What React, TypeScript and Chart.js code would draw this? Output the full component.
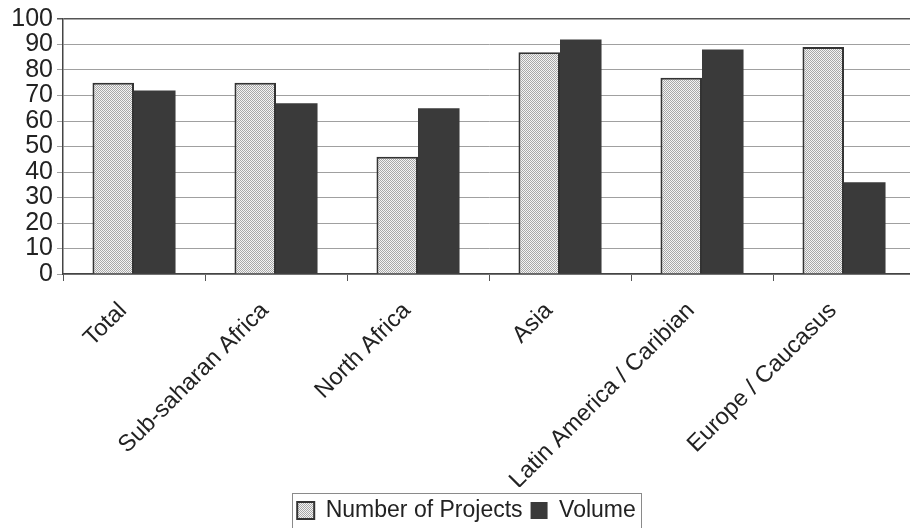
import React, { useEffect, useRef } from "react";
import { Chart, registerables } from "chart.js";

Chart.register(...registerables);

const CATEGORIES = [
  "Total",
  "Sub-saharan Africa",
  "North Africa",
  "Asia",
  "Latin America / Caribian",
  "Europe / Caucasus",
];
const PROJECTS = [75, 75, 46, 87, 77, 89];
const VOLUME = [72, 67, 65, 92, 88, 36];
const Y_MIN = 0;
const Y_MAX = 100;
const Y_STEP = 10;

const FONT = '"Liberation Sans", Arial, sans-serif';

function makePattern(): CanvasPattern | string {
  const c = document.createElement("canvas");
  c.width = 2;
  c.height = 2;
  const ctx = c.getContext("2d");
  if (!ctx) return "#cccccc";
  ctx.fillStyle = "#f4f4f4";
  ctx.fillRect(0, 0, 2, 2);
  ctx.fillStyle = "#a8a8a8";
  ctx.fillRect(0, 0, 1, 1);
  ctx.fillRect(1, 1, 1, 1);
  const p = ctx.createPattern(c, "repeat");
  return p || "#cccccc";
}

const legendShift = {
  id: "legendShift",
  afterLayout(chart: any) {
    const lg = chart.legend;
    if (!lg) return;
    lg.left += 9;
    lg.right += 9;
    lg.top += 4;
    lg.bottom += 4;
  },
};

const legendBorder = {
  id: "legendBorder",
  afterDraw(chart: any) {
    const lg = chart.legend;
    if (!lg || !lg.legendHitBoxes || !lg.legendHitBoxes.length) return;
    let x0 = Infinity, y0 = Infinity, x1 = -Infinity, y1 = -Infinity;
    for (const b of lg.legendHitBoxes) {
      x0 = Math.min(x0, b.left);
      y0 = Math.min(y0, b.top);
      x1 = Math.max(x1, b.left + b.width);
      y1 = Math.max(y1, b.top + b.height);
    }
    const ctx = chart.ctx;
    ctx.save();
    ctx.strokeStyle = "#8a8a8a";
    ctx.lineWidth = 1;
    ctx.strokeRect(Math.round(x0 - 5) + 0.5, Math.round(y0 - 6) + 0.5, Math.round(x1 - x0 + 10), Math.round(y1 - y0 + 12));
    ctx.restore();
  },
};

export default function App() {
  const ref = useRef<HTMLCanvasElement>(null);

  useEffect(() => {
    if (!ref.current) return;
    const pattern = makePattern();
    const chart = new Chart(ref.current, {
      type: "bar",
      data: {
        labels: CATEGORIES,
        datasets: [
          {
            label: "Number of Projects",
            data: PROJECTS,
            backgroundColor: pattern as any,
            borderColor: "#333333",
            borderWidth: 2,
          },
          {
            label: "Volume",
            data: VOLUME,
            backgroundColor: "#3a3a3a",
            borderColor: "#3a3a3a",
            borderWidth: 0,
          },
        ],
      },
      options: {
        responsive: false,
        animation: false,
        layout: { padding: { left: 0, right: 1, top: 17, bottom: 0 } },
        datasets: {
          bar: { categoryPercentage: 0.585, barPercentage: 1 },
        },
        plugins: {
          legend: {
            position: "bottom",
            labels: {
              font: { family: FONT, size: 23 },
              color: "#222222",
              boxWidth: 17,
              boxHeight: 17,
              padding: 8,
            },
          },
          tooltip: { enabled: false },
          title: { display: false },
        },
        scales: {
          x: {
            afterFit(scale: any) {
              scale.height = 213;
            },
            grid: {
              offset: true,
              drawOnChartArea: false,
              drawTicks: true,
              tickLength: 7,
              color: "#555555",
            },
            border: { display: true, color: "#444444", width: 1.5 },
            ticks: {
              autoSkip: false,
              maxRotation: 45,
              minRotation: 45,
              padding: 16,
              labelOffset: -11,
              font: { family: FONT, size: 23.5 },
              color: "#222222",
            },
          },
          y: {
            min: Y_MIN,
            max: Y_MAX,
            afterFit(scale: any) {
              scale.width = 63;
            },
            grid: {
              color: (ctx: any) => (ctx.tick && ctx.tick.value === Y_MAX ? "#555555" : "#a0a0a0"),
              lineWidth: (ctx: any) => (ctx.tick && ctx.tick.value === Y_MAX ? 1.5 : 1),
              drawTicks: true,
              tickLength: 6,
            },
            border: { display: true, color: "#444444", width: 1.5 },
            ticks: {
              stepSize: Y_STEP,
              autoSkip: false,
              padding: 4,
              font: { family: FONT, size: 25 },
              color: "#222222",
            },
          },
        },
      },
      plugins: [legendShift, legendBorder],
    });
    return () => chart.destroy();
  }, []);

  return (
    <div style={{ position: "fixed", left: 0, top: 0, width: 916, height: 528, background: "#fff" }}>
      <canvas ref={ref} width={916} height={528} style={{ display: "block" }} />
    </div>
  );
}
